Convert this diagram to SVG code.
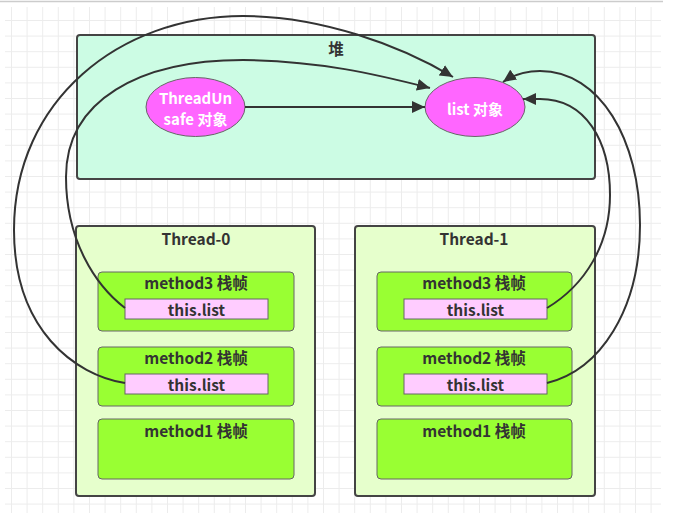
<svg xmlns="http://www.w3.org/2000/svg" width="690" height="529" viewBox="0 0 690 529">
<defs>
<pattern id="grid" x="11" y="4.4" width="15.6" height="15.6" patternUnits="userSpaceOnUse">
<path d="M0.5,0 V15.6 M0,0.5 H15.6" fill="none" stroke="#ececec" stroke-width="1"/>
</pattern>
<marker id="arr" markerUnits="userSpaceOnUse" markerWidth="14" markerHeight="12" refX="13" refY="6" orient="auto">
<path d="M0,0 L13,6 L0,12 Z" fill="#333"/>
</marker>
<style>
.heap{fill:#ccfce4;stroke:#444;stroke-width:2}
.thread{fill:#e6ffcc;stroke:#444;stroke-width:2}
.frame{fill:#99ff33;stroke:#666;stroke-width:1}
.ref{fill:#ffccff;stroke:#666;stroke-width:1}
.obj{fill:#ff66ff;stroke:#666;stroke-width:1}
.t{font-family:"Noto Sans CJK SC","Noto Sans",sans-serif;font-weight:bold;font-size:15.5px;fill:#333;text-anchor:middle;dominant-baseline:central}
.w{fill:#fff;font-size:15px}
.c{fill:none;stroke:#333;stroke-width:2;marker-end:url(#arr)}
</style>
</defs>
<rect x="0" y="0" width="690" height="529" fill="#fff"/>
<rect x="5" y="7" width="656" height="506" fill="url(#grid)"/>
<line x1="0" y1="1.5" x2="663" y2="1.5" stroke="#cccccc" stroke-width="1.5"/>

<g id="heap">
<rect class="heap" x="77" y="35" width="518" height="144" rx="3"/>
<text class="t" x="336" y="48">堆</text>
</g>
<g id="threadunsafe">
<ellipse class="obj" cx="195.5" cy="107" rx="49.5" ry="29.5"/>
<text class="t w" x="195.5" y="97.5">ThreadUn</text>
<text class="t w" x="195.5" y="118">safe 对象</text>
</g>
<g id="list">
<ellipse class="obj" cx="475" cy="107" rx="50" ry="29.5"/>
<text class="t w" x="475" y="108">list 对象</text>
</g>

<g id="thread0">
<rect class="thread" x="76" y="226" width="239" height="270" rx="3"/>
<text class="t" x="196" y="238">Thread-0</text>
</g>
<g id="t0-method3">
<rect class="frame" x="98" y="272" width="196" height="59" rx="4"/>
<text class="t" x="196" y="282">method3 栈帧</text>
</g>
<g id="t0-m3-list">
<rect class="ref" x="125" y="299" width="143" height="20"/>
<text class="t" x="196.5" y="309">this.list</text>
</g>
<g id="t0-method2">
<rect class="frame" x="98" y="347" width="196" height="59" rx="4"/>
<text class="t" x="196" y="357">method2 栈帧</text>
</g>
<g id="t0-m2-list">
<rect class="ref" x="125" y="374" width="143" height="20"/>
<text class="t" x="196.5" y="384">this.list</text>
</g>
<g id="t0-method1">
<rect class="frame" x="98" y="419" width="196" height="60" rx="4"/>
<text class="t" x="196" y="430">method1 栈帧</text>
</g>

<g id="thread1">
<rect class="thread" x="355" y="226" width="240" height="270" rx="3"/>
<text class="t" x="474" y="238">Thread-1</text>
</g>
<g id="t1-method3">
<rect class="frame" x="377" y="272" width="195" height="59" rx="4"/>
<text class="t" x="474" y="282">method3 栈帧</text>
</g>
<g id="t1-m3-list">
<rect class="ref" x="404" y="299" width="143" height="20"/>
<text class="t" x="475.5" y="309">this.list</text>
</g>
<g id="t1-method2">
<rect class="frame" x="377" y="347" width="195" height="59" rx="4"/>
<text class="t" x="474" y="357">method2 栈帧</text>
</g>
<g id="t1-m2-list">
<rect class="ref" x="404" y="374" width="143" height="20"/>
<text class="t" x="475.5" y="384">this.list</text>
</g>
<g id="t1-method1">
<rect class="frame" x="377" y="419" width="195" height="60" rx="4"/>
<text class="t" x="474" y="430">method1 栈帧</text>
</g>

<g id="connectors">
<path class="c" d="M245,107 L425,107"/>
<path class="c" d="M125,383 C75,375 14,330 14,230 C14,100 120,16 243,16 C320,16 400,45 453,77"/>
<path class="c" d="M125,308 C95,285 66,240 66,177 C66,100 140,60 243,60 C320,61 375,74 430,88"/>
<path class="c" d="M547,383 C600,370 640,310 640,225 C640,140 600,71 540,71 C525,71 513,75 503,82"/>
<path class="c" d="M547,308 C585,285 610,245 610,195 C610,140 585,99 540,99 L523,99"/>
</g>
</svg>
